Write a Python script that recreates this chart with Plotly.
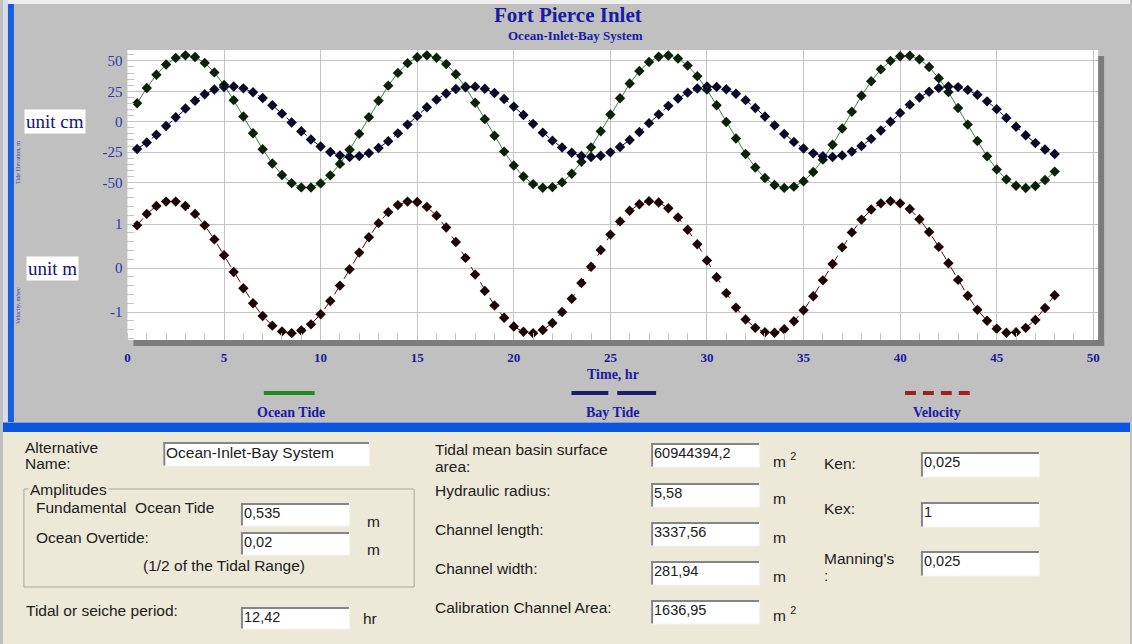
import plotly.graph_objects as go

W, H = 1132, 644

# ---------------- data ----------------
time_hr = [0.5, 1.0, 1.5, 2.0, 2.5, 3.0, 3.5, 4.0, 4.5, 5.0,
           5.5, 6.0, 6.5, 7.0, 7.5, 8.0, 8.5, 9.0, 9.5, 10.0,
           10.5, 11.0, 11.5, 12.0, 12.5, 13.0, 13.5, 14.0, 14.5, 15.0,
           15.5, 16.0, 16.5, 17.0, 17.5, 18.0, 18.5, 19.0, 19.5, 20.0,
           20.5, 21.0, 21.5, 22.0, 22.5, 23.0, 23.5, 24.0, 24.5, 25.0,
           25.5, 26.0, 26.5, 27.0, 27.5, 28.0, 28.5, 29.0, 29.5, 30.0,
           30.5, 31.0, 31.5, 32.0, 32.5, 33.0, 33.5, 34.0, 34.5, 35.0,
           35.5, 36.0, 36.5, 37.0, 37.5, 38.0, 38.5, 39.0, 39.5, 40.0,
           40.5, 41.0, 41.5, 42.0, 42.5, 43.0, 43.5, 44.0, 44.5, 45.0,
           45.5, 46.0, 46.5, 47.0, 47.5, 48.0]

ocean_tide_cm = [15.1, 27.7, 38.6, 47.0, 52.4, 54.5, 53.1, 48.3, 40.5, 30.1,
                 17.7, 4.3, -9.5, -22.6, -34.3, -43.8, -50.5, -54.0, -54.1, -50.7,
                 -44.1, -34.7, -23.1, -10.0, 3.7, 17.2, 29.6, 40.1, 48.1, 53.0,
                 54.5, 52.5, 47.3, 39.0, 28.2, 15.6, 2.1, -11.6, -24.6, -36.0,
                 -45.1, -51.3, -54.3, -53.8, -49.9, -42.8, -33.0, -21.1, -7.8, 5.9,
                 19.3, 31.4, 41.6, 49.1, 53.4, 54.4, 51.9, 46.1, 37.4, 26.3,
                 13.5, -0.2, -13.8, -26.5, -37.6, -46.3, -52.0, -54.4, -53.4, -48.9,
                 -41.4, -31.2, -19.0, -5.6, 8.1, 21.3, 33.2, 43.0, 50.0, 53.8,
                 54.2, 51.2, 44.9, 35.7, 24.3, 11.3, -2.4, -15.9, -28.5, -39.2,
                 -47.4, -52.6, -54.5, -52.9, -47.9, -41.0]

bay_tide_cm = [-22.4, -17.1, -10.7, -3.6, 3.7, 10.8, 17.2, 22.5, 26.4, 28.5,
               28.9, 27.4, 24.2, 19.5, 13.5, 6.6, -0.7, -7.9, -14.6, -20.4,
               -24.9, -27.8, -29.0, -28.3, -25.8, -21.6, -16.1, -9.6, -2.4, 4.9,
               11.9, 18.1, 23.2, 26.8, 28.7, 28.8, 27.0, 23.6, 18.6, 12.4,
               5.5, -1.8, -9.0, -15.6, -21.2, -25.5, -28.2, -29.0, -28.0, -25.2,
               -20.8, -15.1, -8.5, -1.2, 6.0, 13.0, 19.0, 23.9, 27.3, 28.9,
               28.6, 26.6, 22.9, 17.7, 11.3, 4.3, -3.0, -10.1, -16.6, -22.0,
               -26.0, -28.4, -29.0, -27.7, -24.6, -20.0, -14.1, -7.3, -0.1, 7.2,
               14.0, 19.9, 24.6, 27.6, 29.0, 28.4, 26.1, 22.1, 16.7, 10.3,
               3.1, -4.2, -11.2, -17.6, -22.8, -26.5]

velocity_ms = [0.97, 1.23, 1.41, 1.51, 1.51, 1.41, 1.23, 0.97, 0.65, 0.29,
               -0.09, -0.46, -0.80, -1.09, -1.31, -1.44, -1.48, -1.42, -1.28, -1.05,
               -0.75, -0.40, -0.03, 0.35, 0.70, 1.02, 1.27, 1.43, 1.51, 1.50,
               1.39, 1.19, 0.92, 0.59, 0.23, -0.15, -0.52, -0.85, -1.13, -1.33,
               -1.45, -1.48, -1.41, -1.25, -1.00, -0.70, -0.34, 0.03, 0.41, 0.76,
               1.06, 1.30, 1.45, 1.52, 1.49, 1.36, 1.15, 0.87, 0.54, 0.17,
               -0.21, -0.57, -0.90, -1.17, -1.36, -1.46, -1.47, -1.39, -1.21, -0.96,
               -0.64, -0.28, 0.09, 0.47, 0.81, 1.10, 1.33, 1.47, 1.52, 1.47,
               1.34, 1.11, 0.82, 0.48, 0.11, -0.27, -0.63, -0.95, -1.20, -1.38,
               -1.47, -1.46, -1.36, -1.18, -0.91, -0.62]

x_ticks = [0, 5, 10, 15, 20, 25, 30, 35, 40, 45, 50]
tide_ticks = [-50, -25, 0, 25, 50]
tide_tick_labels = ["-50", "-25", "0", "25", "50"]
vel_ticks = [-1, 0, 1]
vel_tick_labels = ["-1", "0", "1"]

title_text = "Fort Pierce Inlet"
subtitle_text = "Ocean-Inlet-Bay System"
legend_names = ["Ocean Tide", "Bay Tide", "Velocity"]

# form fields
form_left = [("Fundamental  Ocean Tide", "0,535", "m"),
             ("Ocean Overtide:", "0,02", "m")]
form_mid = [(["Tidal mean basin surface", "area:"], "60944394,2", "m <sup>2</sup>"),
            (["Hydraulic radius:"], "5,58", "m"),
            (["Channel length:"], "3337,56", "m"),
            (["Channel width:"], "281,94", "m"),
            (["Calibration Channel Area:"], "1636,95", "m <sup>2</sup>")]
form_right = [(["Ken:"], "0,025"), (["Kex:"], "1"), (["Manning's", ":"], "0,025")]

# ---------------- styling ----------------
SERIF = "Liberation Serif, Times New Roman, serif"
SANS = "Liberation Sans, Arial, sans-serif"
NUMF = "Liberation Sans, Arial, sans-serif"
NAVY = "#1a1aa4"
GRID = "#c4c4c4"
CHART_BG = "#c0c0c0"
FORM_BG = "#ece9d8"
FORM_TXT = "#202020"


def fx(p):
    return p / W


def fy(p):
    return 1 - p / H


fig = go.Figure()
fig.add_trace(go.Scatter(x=time_hr, y=ocean_tide_cm, mode="lines+markers",
                         line=dict(color="#2e8b2e", width=1),
                         marker=dict(symbol="diamond", size=8, color="#0c200c"),
                         xaxis="x", yaxis="y", name=legend_names[0], cliponaxis=False))
fig.add_trace(go.Scatter(x=time_hr, y=bay_tide_cm, mode="lines+markers",
                         line=dict(color="#101050", width=1, dash="dash"),
                         marker=dict(symbol="diamond", size=8, color="#0a0a28"),
                         xaxis="x", yaxis="y", name=legend_names[1], cliponaxis=False))
fig.add_trace(go.Scatter(x=time_hr, y=velocity_ms, mode="lines+markers",
                         line=dict(color="#5a0a0a", width=1, dash="dash"),
                         marker=dict(symbol="diamond", size=8, color="#1e0606"),
                         xaxis="x", yaxis="y2", name=legend_names[2], cliponaxis=False))

shapes = []
annotations = []


def rect(x0, y0, x1, y1, fill, line_color=None, lw=0):
    shapes.append(dict(type="rect", xref="paper", yref="paper",
                       x0=fx(x0), x1=fx(x1), y0=fy(y1), y1=fy(y0),
                       fillcolor=fill, line=dict(width=lw, color=line_color or fill)))


def seg(x0, y0, x1, y1, color, width=1):
    shapes.append(dict(type="line", xref="paper", yref="paper",
                       x0=fx(x0), x1=fx(x1), y0=fy(y0), y1=fy(y1),
                       line=dict(color=color, width=width)))


def text(px, py, s, size, family, color, xanchor="left", bold=False, bg=None, angle=0):
    if xanchor == "left":
        px -= 2
    a = dict(xref="paper", yref="paper", x=fx(px), y=fy(py), text=("<b>%s</b>" % s) if bold else s,
             showarrow=False, xanchor=xanchor, yanchor="middle", textangle=angle,
             font=dict(family=family, size=size, color=color), align="left")
    if bg:
        a["bgcolor"] = bg
        a["borderpad"] = 1
    annotations.append(a)


def textbox(x0, y0, x1, y1, value, family=NUMF, size=14.5):
    rect(x0, y0, x1, y1, "#ffffff")
    seg(x0, y0 + 1, x1, y0 + 1, "#858585", 2)
    seg(x0 + 1, y0, x0 + 1, y1, "#858585", 2)
    seg(x0, y1, x1, y1, "#f4f4f4", 1)
    seg(x1, y0, x1, y1, "#f4f4f4", 1)
    text(x0 + 3, y0 + 10, value, size, family, FORM_TXT)


# chart background decorations
rect(0, 0, W, 4, "#eeeeee")
rect(0, 0, 5, 422, "#d8dde8")
rect(5, 4, 11, 422, "#1a5ee0")
# plot shadow
rect(1100, 56, 1106, 346, "#7c7c7c")
rect(131, 340, 1106, 346, "#7c7c7c")
# blue separator bar and form panel
rect(0, 422, W, 432, "#0a55dc")
seg(0, 422.5, W, 422.5, "#6f9ff0", 1)
rect(0, 432, W, H, FORM_BG)

# legend swatches
seg(262, 393, 313, 393, "#1f8c1f", 4)
seg(571, 393, 608, 393, "#1c1c6c", 4)
seg(617, 393, 656, 393, "#1c1c6c", 4)
for d0 in (906, 924, 942, 960):
    seg(d0, 393, d0 + 11, 393, "#a02020", 4)

# chart texts
text(568, 15, title_text, 21, SERIF, NAVY, xanchor="center", bold=True)
text(575, 35, subtitle_text, 13, SERIF, NAVY, xanchor="center", bold=True)
text(52, 121, "unit cm", 19, SERIF, "#14147a", xanchor="center", bg="#ffffff")
text(50, 268, "unit m", 19, SERIF, "#14147a", xanchor="center", bg="#ffffff")
text(15, 162, "Tide Elevation, m", 6, SERIF, "#3a3ab8", xanchor="center", angle=-90)
text(15, 305, "Velocity, m/sec", 6, SERIF, "#3a3ab8", xanchor="center", angle=-90)
text(613, 374, "Time, hr", 14, SERIF, NAVY, xanchor="center", bold=True)
text(289, 412, legend_names[0], 14, SERIF, NAVY, xanchor="center", bold=True)
text(613, 412, legend_names[1], 14, SERIF, NAVY, xanchor="center", bold=True)
text(938, 412, legend_names[2], 14, SERIF, NAVY, xanchor="center", bold=True)

# ---------------- form panel ----------------
FS = 15.5
text(22, 447, "Alternative", FS, SANS, FORM_TXT)
text(22, 463, "Name:", FS, SANS, FORM_TXT)
textbox(161, 442, 368, 466, subtitle_text, family=SANS, size=15.5)

# amplitudes group
shapes.append(dict(type="rect", xref="paper", yref="paper", x0=fx(21), x1=fx(413),
                   y0=fy(587), y1=fy(489), line=dict(color="#aaa797", width=1),
                   fillcolor="rgba(0,0,0,0)"))
text(27, 489, "Amplitudes", FS, SANS, FORM_TXT, bg=FORM_BG)
left_rows = [(507, 503, 526, 521), (537, 532, 555, 549)]
for (lab, val, unit), (ly, b0, b1, uy) in zip(form_left, left_rows):
    text(33, ly, lab, FS, SANS, FORM_TXT)
    textbox(239, b0, 348, b1, val)
    text(366, uy, unit, FS, SANS, FORM_TXT)
text(222, 565, "(1/2 of the Tidal Range)", FS, SANS, FORM_TXT, xanchor="center")
text(23, 610, "Tidal or seiche period:", FS, SANS, FORM_TXT)
textbox(239, 607, 348, 629, "12,42")
text(362, 618, "hr", FS, SANS, FORM_TXT)

mid_rows = [([449, 467], 443, 467, 460), ([490], 483, 507, 498), ([529], 522, 546, 537),
            ([568], 561, 585, 576), ([607], 600, 624, 614)]
for (labs, val, unit), (lys, b0, b1, uy) in zip(form_mid, mid_rows):
    for lab, ly in zip(labs, lys):
        text(434, ly, lab, FS, SANS, FORM_TXT)
    textbox(651, b0, 760, b1, val)
    text(773, uy, unit, FS, SANS, FORM_TXT)

right_rows = [([463], 452, 477), ([508], 502, 527), ([558, 575], 551, 576)]
for (labs, val), (lys, b0, b1) in zip(form_right, right_rows):
    for lab, ly in zip(labs, lys):
        text(825, ly, lab, FS, SANS, FORM_TXT)
    textbox(922, b0, 1041, b1, val)

# ---------------- layout ----------------
fig.update_layout(
    width=W, height=H, autosize=False,
    margin=dict(l=0, r=0, t=0, b=0),
    paper_bgcolor=CHART_BG, plot_bgcolor="#ffffff",
    showlegend=False,
    shapes=shapes, annotations=annotations,
    xaxis=dict(domain=[fx(125), fx(1100)], range=[0, 50.25], anchor="y2",
               tickvals=x_ticks, showgrid=True, gridcolor=GRID, gridwidth=1,
               zeroline=False, showline=False, ticks="",
               tickfont=dict(family=SERIF, size=13, color="#1a1a99", weight="bold"),
               ticklabelstandoff=8,
               minor=dict(dtick=1, ticks="inside", ticklen=7, tickcolor=GRID, showgrid=False)),
    yaxis=dict(domain=[fy(193), fy(50)], range=[-58.6, 58.9], anchor="x",
               tickvals=tide_ticks, ticktext=tide_tick_labels,
               showgrid=True, gridcolor=GRID, zeroline=False,
               showline=False, ticks="",
               tickfont=dict(family=SERIF, size=15, color="#3434a8"),
               ticklabelstandoff=4,
               minor=dict(dtick=5, ticks="inside", ticklen=7, tickcolor=GRID, showgrid=False)),
    yaxis2=dict(domain=[fy(340), fy(193)], range=[-1.636, 1.705], anchor="x",
                tickvals=vel_ticks, ticktext=vel_tick_labels,
                showgrid=True, gridcolor=GRID, zeroline=False,
                showline=False, ticks="",
                tickfont=dict(family=SERIF, size=15, color="#3434a8"),
                ticklabelstandoff=4,
                minor=dict(dtick=0.2, ticks="inside", ticklen=7, tickcolor=GRID, showgrid=False)),
)

fig.write_html("out.html", config={"displayModeBar": False},
               post_script="document.body.style.margin='0px';document.body.style.overflow='hidden';")
